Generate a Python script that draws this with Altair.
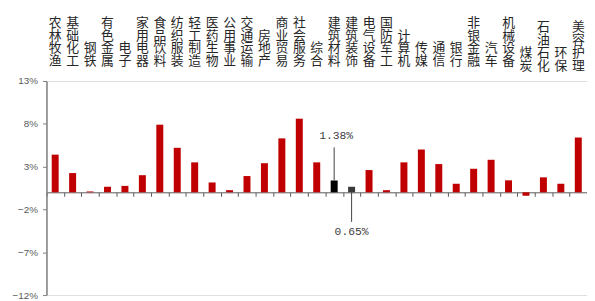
import altair as alt
import pandas as pd

industries = ["农林牧渔", "基础化工", "钢铁", "有色金属", "电子", "家用电器", "食品饮料",
              "纺织服装", "轻工制造", "医药生物", "公用事业", "交通运输", "房地产", "商业贸易",
              "社会服务", "综合", "建筑材料", "建筑装饰", "电气设备", "国防军工", "计算机",
              "传媒", "通信", "银行", "非银金融", "汽车", "机械设备", "煤炭", "石油石化",
              "环保", "美容护理"]
returns = [4.4, 2.25, 0.1, 0.65, 0.75, 2.0, 7.9, 5.2, 3.5, 1.15, 0.25, 1.9, 3.4, 6.3,
           8.6, 3.5, 1.38, 0.65, 2.6, 0.25, 3.5, 5.0, 3.3, 1.0, 2.75, 3.8, 1.4, -0.4, 1.75,
           1.0, 6.4]
y_ticks = [-12, -7, -2, 3, 8, 13]
highlight_up = "建筑材料"
highlight_down = "建筑装饰"

W, H = 548, 217
YMIN, YMAX = -12, 13
zero_px = H * (YMAX - 0) / (YMAX - YMIN)

# label layout (pixels above the plot area)
LINE_H = 13
LAST_BASELINE = -16
lowered = {"煤炭", "石油石化", "环保", "美容护理"}

df = pd.DataFrame({"industry": industries, "ret": returns})
df["label"] = ["\n".join(s) for s in industries]
df["ly"] = [LAST_BASELINE - (len(s) - 1) * LINE_H + (4.5 if s in lowered else 0)
            for s in industries]
df["group"] = ["up" if s == highlight_up else ("down" if s == highlight_down else "base")
               for s in industries]

xenc = alt.X("industry:N", sort=industries,
             scale=alt.Scale(paddingInner=0, paddingOuter=0),
             axis=alt.Axis(title=None, labels=False, tickBand="extent", tickSize=4,
                           tickColor="#595959", domainColor="#595959", domainWidth=1,
                           tickWidth=1, offset=-(H - zero_px), orient="bottom", grid=False))
yscale = alt.Scale(domain=[YMIN, YMAX], nice=False, zero=False)

bars = alt.Chart(df).mark_bar(width=alt.RelativeBandSize(0.4)).encode(
    x=xenc,
    y=alt.Y("ret:Q", scale=yscale,
            axis=alt.Axis(values=y_ticks, title=None, grid=False,
                          labelExpr="format(datum.value,'d') + '%'",
                          labelFont="Liberation Sans", labelFontSize=10,
                          labelColor="#595959", tickSize=4, tickColor="#808080",
                          domainColor="#808080", domainWidth=1.5, labelPadding=5)),
    color=alt.Color("group:N", legend=None,
                    scale=alt.Scale(domain=["base", "up", "down"],
                                    range=["#C00000", "#000000", "#3a3a3a"])),
)

up_df = df[df["industry"] == highlight_up].copy()
up_df["txt"] = up_df["ret"].map(lambda v: f"{v:.2f}%")
down_df = df[df["industry"] == highlight_down].copy()
down_df["txt"] = down_df["ret"].map(lambda v: f"{v:.2f}%")

up_rule = alt.Chart(up_df).mark_rule(color="#404040", strokeWidth=1).encode(
    x=xenc, y=alt.Y("ret:Q", scale=yscale), y2=alt.datum(5.25))
up_text = alt.Chart(up_df).mark_text(
    font="Liberation Mono", fontSize=11.5, color="#404040", baseline="middle", dx=2
).encode(x=xenc, y=alt.datum(6.55), text="txt:N")

down_rule = alt.Chart(down_df).mark_rule(color="#404040", strokeWidth=1).encode(
    x=xenc, y=alt.datum(0), y2=alt.datum(-3.45))
down_text = alt.Chart(down_df).mark_text(
    font="Liberation Mono", fontSize=11.5, color="#404040", baseline="middle"
).encode(x=xenc, y=alt.datum(-4.63), text="txt:N")

plot = alt.layer(bars, up_rule, up_text, down_rule, down_text)

top_labels = alt.Chart(df).mark_text(
    lineBreak="\n", baseline="alphabetic", fontSize=13, lineHeight=LINE_H,
    font="Noto Sans CJK SC", color="#262626"
).encode(
    x=xenc,
    y=alt.Y("ly:Q", scale=alt.Scale(domain=[-100, 0], range=[-100, 0]), axis=None),
    text="label:N",
)

chart = alt.layer(plot, top_labels).resolve_scale(y="independent").properties(
    width=W, height=H,
    autosize=alt.AutoSizeParams(type="none"),
    padding={"left": 39, "top": 72, "right": 0, "bottom": 4},
).configure_view(stroke=None).configure(background="white")

chart.save("out.html", embed_options={"renderer": "svg", "actions": False})
